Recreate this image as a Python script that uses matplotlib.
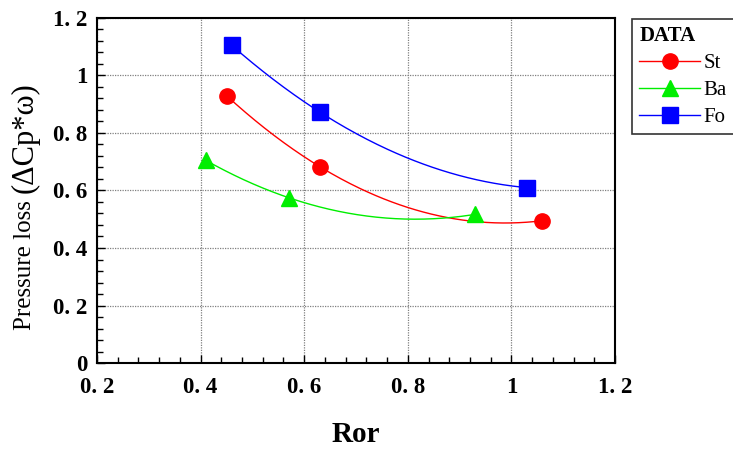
import numpy as np
import matplotlib
matplotlib.use("Agg")
import matplotlib.pyplot as plt
from matplotlib.ticker import MultipleLocator

# Data
st_x = [0.45, 0.63, 1.06]
st_y = [0.93, 0.683, 0.495]
ba_x = [0.41, 0.57, 0.93]
ba_y = [0.705, 0.575, 0.517]
fo_x = [0.46, 0.63, 1.03]
fo_y = [1.105, 0.873, 0.61]

x_ticks = [0.2, 0.4, 0.6, 0.8, 1.0, 1.2]
x_tick_labels = ["0. 2", "0. 4", "0. 6", "0. 8", "1", "1. 2"]
y_ticks = [0, 0.2, 0.4, 0.6, 0.8, 1.0, 1.2]
y_tick_labels = ["0", "0. 2", "0. 4", "0. 6", "0. 8", "1", "1. 2"]

series = [
    ("St", st_x, st_y, "#ff0000", "o", 11),
    ("Ba", ba_x, ba_y, "#00ee00", "^", 12),
    ("Fo", fo_x, fo_y, "#0000ff", "s", 11),
]

fig = plt.figure(figsize=(7.33, 4.5), dpi=100)
ax = fig.add_axes([97/733, 1-363/450, (615-97)/733, (363-18)/450])

handles = []
for name, xs, ys, col, mk, ms in series:
    coef = np.polyfit(xs, ys, 2)
    xx = np.linspace(min(xs), max(xs), 200)
    ax.plot(xx, np.polyval(coef, xx), color=col, lw=1.0, zorder=2)
    ax.plot(xs, ys, linestyle="none", marker=mk, color=col, ms=ms, zorder=3)
    h, = ax.plot([], [], color=col, lw=1.0, marker=mk, ms=ms, label=name)
    handles.append(h)

ax.set_xlim(0.2, 1.2)
ax.set_ylim(0, 1.2)
ax.set_xticks(x_ticks)
ax.set_xticklabels(x_tick_labels)
ax.set_yticks(y_ticks)
ax.set_yticklabels(y_tick_labels)
ax.xaxis.set_minor_locator(MultipleLocator(0.04))
ax.yaxis.set_minor_locator(MultipleLocator(0.04))
ax.tick_params(which="both", direction="in", top=False, right=False, width=1.0)
ax.tick_params(which="major", length=6, labelsize=16.5)
ax.tick_params(axis="x", which="major", pad=10)
ax.tick_params(axis="y", which="major", pad=7)
ax.tick_params(which="minor", length=4)
for lab in ax.get_xticklabels() + ax.get_yticklabels():
    lab.set_fontfamily("Liberation Serif")
    lab.set_fontweight("bold")
for sp in ax.spines.values():
    sp.set_linewidth(1.5)
ax.grid(True, which="major", linestyle=(0, (1, 1)), color="#808080", lw=0.9)

# Axis labels
fig.text(356/733, 1-435/450, "Ror", ha="center", va="center",
         fontsize=21, fontweight="bold", family="Liberation Serif")
t1 = fig.text(25/733, 1-330/450, "Pressure loss ", ha="center", va="bottom",
              rotation=90, fontsize=18, family="Liberation Serif")
fig.canvas.draw()
bb = t1.get_window_extent()
fig.text(25/733, (bb.y1 + 1)/450, "(ΔCp*ω)", ha="center", va="bottom",
         rotation=90, fontsize=22, family="Liberation Serif")

leg = fig.legend(handles=handles, loc="upper left",
                 bbox_to_anchor=(632/733, 1-19/450), frameon=True,
                 fancybox=False, edgecolor="black", handlelength=2.9,
                 handletextpad=0.2, borderpad=0.35, labelspacing=0.35,
                 borderaxespad=0,
                 prop={"family": "Liberation Serif", "size": 15},
                 title="DATA", alignment="left",
                 title_fontproperties={"family": "Liberation Serif", "size": 15, "weight": "bold"})
leg.get_frame().set_linewidth(1.2)

fig.savefig("out.png", dpi=100)
